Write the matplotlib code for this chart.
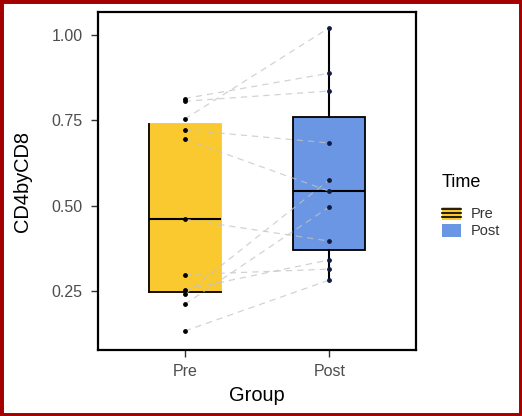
import numpy as np
import matplotlib
matplotlib.use("Agg")
import matplotlib.pyplot as plt
from matplotlib.patches import Rectangle, Patch
from matplotlib.lines import Line2D
from matplotlib.legend_handler import HandlerBase

plt.rcParams['font.family'] = ['Liberation Sans', 'DejaVu Sans']

# Paired CD4/CD8 ratios, one entry per subject
groups = ["Pre", "Post"]
pre_vals = [0.813, 0.805, 0.753, 0.721, 0.694, 0.460, 0.298, 0.254, 0.240, 0.211, 0.133]
post_vals = [0.887, 0.835, 1.020, 0.683, 0.542, 0.396, 0.314, 0.341, 0.575, 0.496, 0.282]
y_ticks = [0.25, 0.50, 0.75, 1.00]
y_tick_labels = ["0.25", "0.50", "0.75", "1.00"]

col_pre = "#F9C92F"
col_post = "#6A96E3"

fig = plt.figure(figsize=(5.22, 4.16), dpi=100)
ax = fig.add_axes([98 / 522, 66 / 416, 318 / 522, 338 / 416])

pos = [1, 2]
bp = ax.boxplot([pre_vals, post_vals], positions=pos, widths=0.5, patch_artist=True,
                whis=1.5, showfliers=False, showcaps=False, zorder=1)
for patch, c in zip(bp['boxes'], [col_pre, col_post]):
    patch.set_facecolor(c)
    patch.set_edgecolor("black")
    patch.set_linewidth(1.3)
for m in bp['medians']:
    m.set_color("black")
    m.set_linewidth(1.5)
for w in bp['whiskers']:
    w.set_color("black")
    w.set_linewidth(1.5)

# The Pre box keeps only its left and lower edges and has no whiskers
bp['boxes'][0].set_edgecolor(col_pre)
bp['whiskers'][0].set_visible(False)
bp['whiskers'][1].set_visible(False)
q1, q3 = np.percentile(pre_vals, [25, 75])
ax.plot([0.75, 0.75], [q1, q3], color="black", lw=1.3, zorder=2)
ax.plot([0.75, 1.25], [q1, q1], color="black", lw=1.3, zorder=2)

# Lines joining each subject's two measurements
for a, b in zip(pre_vals, post_vals):
    ax.plot([1, 2], [a, b], color="#C4C4C4", lw=0.9, ls=(0, (5, 4)), alpha=0.75, zorder=3)

ax.scatter([1] * len(pre_vals), pre_vals, s=6, color="black", zorder=4)
ax.scatter([2] * len(post_vals), post_vals, s=6, color="#101a40", zorder=4)

ax.set_xlim(0.4, 2.6)
ax.set_ylim(0.0775, 1.066)
ax.set_xticks(pos)
ax.set_xticklabels(groups)
ax.set_yticks(y_ticks)
ax.set_yticklabels(y_tick_labels)
ax.tick_params(axis='both', length=5, width=1, color="#333333", labelcolor="#4D4D4D",
               labelsize=11.5)
ax.tick_params(axis='y', pad=6)
ax.tick_params(axis='x', pad=5)
for s in ax.spines.values():
    s.set_linewidth(1.6)
    s.set_color("black")
ax.set_xlabel("Group", fontsize=14.4, labelpad=5)
ax.set_ylabel("CD4byCD8", fontsize=14.4, labelpad=14)


class BoxKey(HandlerBase):
    def __init__(self, lines=True, **kw):
        super().__init__(**kw)
        self.lines = lines

    def create_artists(self, legend, orig_handle, xdescent, ydescent, width, height, fontsize, trans):
        r = Rectangle((-xdescent, -ydescent), width, height, facecolor=orig_handle.get_facecolor(),
                      edgecolor="none", transform=trans)
        arts = [r]
        if self.lines:
            for f in (0.2, 0.5, 0.8):
                arts.append(Line2D([-xdescent, -xdescent + width], [-ydescent + f * height] * 2,
                                   color="black", lw=1.2, transform=trans))
        return arts


h_pre = Patch(facecolor=col_pre)
h_post = Patch(facecolor=col_post)
leg = fig.legend([h_pre, h_post], groups, title="Time", loc="upper left",
                 bbox_to_anchor=(420 / 522, 1 - 152 / 416), frameon=False, borderpad=1.0,
                 fontsize=10.5, title_fontsize=13, handlelength=1.3, handleheight=1.0,
                 handletextpad=0.7, labelspacing=0.15,
                 handler_map={h_pre: BoxKey(lines=True), h_post: BoxKey(lines=False)})
leg._legend_box.align = "left"
leg._legend_box.sep = 11.5
for t in leg.get_texts():
    t.set_color("#333333")

fig.patches.append(Rectangle((0, 0), 1, 1, transform=fig.transFigure, fill=False,
                             edgecolor="#A40000", linewidth=5, zorder=10))

fig.savefig("out.png", dpi=100)
